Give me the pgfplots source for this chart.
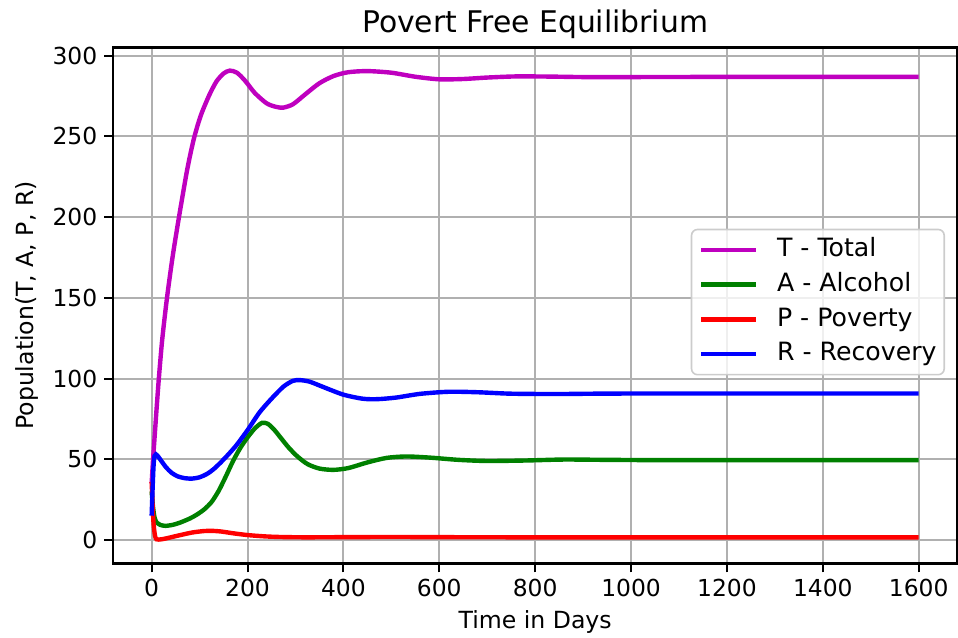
\documentclass[border=0pt]{standalone}
\usepackage{pgfplots}
\pgfplotsset{compat=1.18}
\usepackage{pgfplotstable}
\usepackage{fontspec}
\setmainfont{DejaVu Sans}

\definecolor{mplm}{rgb}{0.75,0,0.75}
\definecolor{mplg}{rgb}{0,0.5,0}
\definecolor{gridc}{HTML}{B0B0B0}
\definecolor{legc}{HTML}{CCCCCC}

% T - Total
\pgfplotstableread{
t v
0 35
3 50
6 63
10 80
15 100
22 124
32 150
44 176
57 200
72 226
80 238
88 248.5
96 257
105 265
120 275.5
135 284
150 289
163 290.8
178 289.5
195 284.5
215 277
240 270.5
260 268.3
275 267.9
295 270
320 276
350 283
380 287.5
410 289.8
450 290.5
500 289.5
550 287
600 285.4
650 285.6
700 286.5
760 287.2
830 287.1
900 286.8
1000 286.8
1200 286.9
1600 286.9
}\totaldata

% A - Alcohol
\pgfplotstableread{
t v
0 30
3 20
6 14
10 11
18 9.3
29 8.7
45 9.4
60 10.8
80 13.3
95 15.8
110 19
125 23.5
140 30.5
155 39.5
170 49
185 57
200 63.5
215 69
230 72.5
242 72
255 68.5
270 63
285 57.5
303 52
325 47
350 44.2
379 43.4
410 44.5
450 48
490 50.8
531 51.7
580 51
640 49.6
700 48.9
780 49.2
860 49.8
950 49.6
1100 49.4
1600 49.4
}\alcoholdata

% P - Poverty
\pgfplotstableread{
t v
0 36
2 22
4 10
7 2.5
10 0.4
15 0.2
25 0.6
40 1.6
60 3
85 4.6
110 5.5
126 5.6
145 5.2
170 4.1
200 3
235 2.2
268 1.8
320 1.6
400 1.7
500 1.8
600 1.7
800 1.6
1600 1.6
}\povertydata

% R - Recovery
\pgfplotstableread{
t v
0 15
2 32
4 46
6 52
9 53
14 51.5
20 49
30 45
42 41.5
55 39.3
70 38.2
85 38
100 38.8
115 40.8
130 44
150 49.8
175 58
200 68
225 79
250 87.5
275 95
295 98.6
310 99
330 98
360 94.5
400 90
440 87.5
470 87.2
510 88.2
560 90.5
620 91.8
680 91.5
750 90.6
850 90.4
1000 90.7
1600 90.7
}\recoverydata

\begin{document}
\begin{tikzpicture}
\path[use as bounding box] (-56.65pt,-36.85pt) rectangle (422.35pt,281.65pt);
\begin{axis}[
  at={(0,0)}, anchor=south west,
  scale only axis,
  width=421.85pt, height=257.8pt,
  xmin=-80, xmax=1680,
  ymin=-14.5, ymax=305,
  xtick={0,200,...,1600},
  ytick={0,50,...,300},
  tick pos=left,
  tick align=outside,
  major tick length=4.5pt,
  every tick/.style={black, line width=1pt},
  axis line style={line width=1.2pt},
  grid=major,
  grid style={gridc, line width=1pt},
  /pgf/number format/assume math mode=true,
  /pgf/number format/1000 sep={},
  ticklabel style={font=\fontsize{11.7}{14}\selectfont},
  title={Povert Free Equilibrium},
  title style={at={(axis description cs:0.5,1)}, anchor=base, yshift=1.5pt,
    font=\fontsize{14.9}{18}\selectfont},
  xlabel={Time in Days},
  xlabel style={at={([yshift=-32.5pt]axis description cs:0.5,0)}, anchor=base,
    font=\fontsize{11.8}{14}\selectfont},
  ylabel={Population(T, A, P, R)},
  ylabel style={at={([xshift=-40pt]axis description cs:0,0.5)}, anchor=base,
    font=\fontsize{11.8}{14}\selectfont},
  legend cell align=left,
  legend image code/.code={\draw[#1] (0pt,0pt) -- (27.5pt,0pt);},
  legend style={
    at={([xshift=-6pt]axis description cs:1,0.5066)}, anchor=east,
    draw=legc, line width=0.8pt, fill=white, fill opacity=0.8,
    draw opacity=1, text opacity=1, rounded corners=3pt,
    font=\fontsize{12.6}{15}\selectfont,
    inner xsep=3.85pt, inner ysep=1.5pt,
    nodes={inner xsep=0pt, inner ysep=2.85pt, text height=9.2pt, text depth=2.5pt},
    /tikz/every odd column/.append style={column sep=9.2pt},
  },
  every axis plot/.append style={line width=2.2pt, smooth, tension=0.45},
]
\addplot[mplm] table[x=t, y=v] {\totaldata};
\addlegendentry{T - Total}
\addplot[mplg] table[x=t, y=v] {\alcoholdata};
\addlegendentry{A - Alcohol}
\addplot[red] table[x=t, y=v] {\povertydata};
\addlegendentry{P - Poverty}
\addplot[blue] table[x=t, y=v] {\recoverydata};
\addlegendentry{R - Recovery}
\end{axis}
\end{tikzpicture}
\end{document}
